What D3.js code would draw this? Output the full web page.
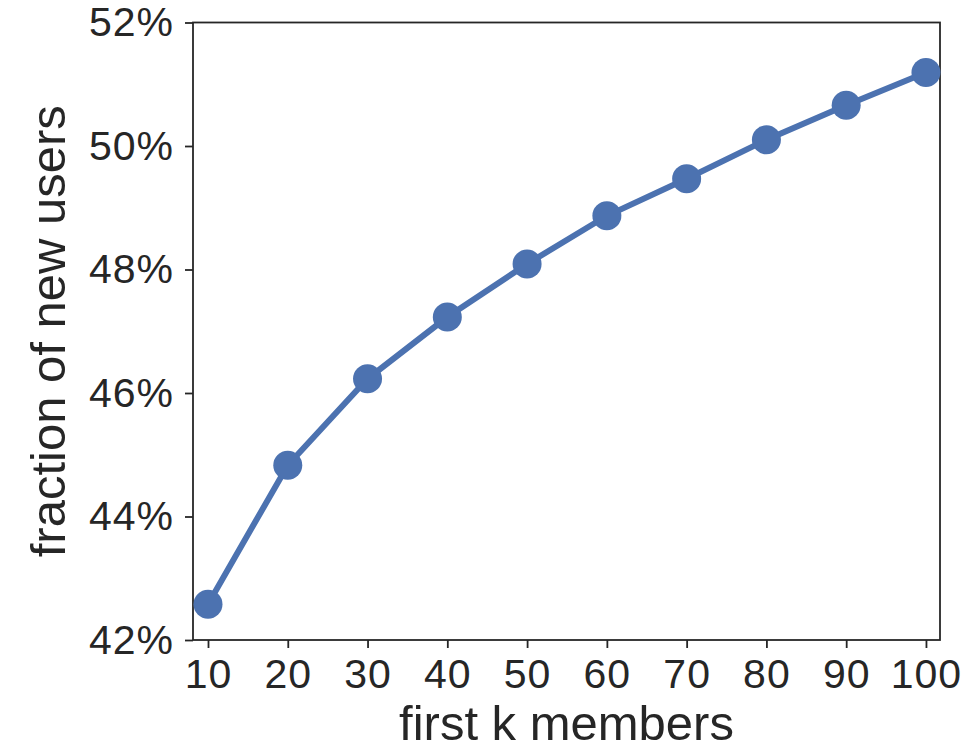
<!DOCTYPE html>
<meta charset="utf-8">
<head>
    <title>first k members</title>
</head>

<style>
body { margin: 0; background: #fff; }

.axis path,
.axis line {
  fill: none;
  stroke: #262626;
  stroke-width: 1.8px;
}

.axis text {
  font: 41px "Liberation Sans", Arial, sans-serif;
  letter-spacing: 1px;
  fill: #262626;
}

.label {
  font: 49px "Liberation Sans", Arial, sans-serif;
  fill: #262626;
}

.line {
  fill: none;
  stroke: #4c72b0;
  stroke-width: 6px;
}

.dot { fill: #4c72b0; }
</style>
<body>
<script src="https://cdn.jsdelivr.net/npm/d3@7/dist/d3.min.js"></script>
<script>

// values
var members = [10, 20, 30, 40, 50, 60, 70, 80, 90, 100];
var fraction = [42.58, 44.83, 46.23, 47.23, 48.09, 48.87, 49.47, 50.10, 50.66, 51.19];
var yTicks = [42, 44, 46, 48, 50, 52];

var margin = {top: 22.5, right: 29, bottom: 114, left: 193},
    width = 969 - margin.left - margin.right,
    height = 754 - margin.top - margin.bottom;

var x = d3.scaleLinear()
    .domain([8.12, 101.76])
    .range([0, width]);

var y = d3.scaleLinear()
    .domain([42, 52])
    .range([height, 0]);

var data = members.map(function(m, i) { return {k: m, v: fraction[i]}; });

var svg = d3.select("body").append("svg")
    .attr("width", 969)
    .attr("height", 754);

var g = svg.append("g")
    .attr("transform", "translate(" + margin.left + "," + margin.top + ")");

// frame
g.append("rect")
    .attr("width", width)
    .attr("height", height)
    .style("fill", "none")
    .style("stroke", "#262626")
    .style("stroke-width", 1.8);

g.append("g")
    .attr("class", "axis axis--x")
    .attr("transform", "translate(0," + height + ")")
    .call(d3.axisBottom(x).tickValues(members).tickSize(8).tickPadding(11).tickSizeOuter(0))
    .call(function(s) { s.select(".domain").remove(); });

g.append("g")
    .attr("class", "axis axis--y")
    .call(d3.axisLeft(y).tickValues(yTicks).tickSize(8).tickPadding(11).tickSizeOuter(0)
      .tickFormat(function(d) { return d + "%"; }))
    .call(function(s) { s.select(".domain").remove(); });

var line = d3.line()
    .x(function(d) { return x(d.k); })
    .y(function(d) { return y(d.v); });

g.append("path")
    .datum(data)
    .attr("class", "line")
    .attr("d", line);

g.selectAll(".dot")
    .data(data)
  .enter().append("circle")
    .attr("class", "dot")
    .attr("cx", function(d) { return x(d.k); })
    .attr("cy", function(d) { return y(d.v); })
    .attr("r", 14.5);

// axis labels
svg.append("text")
    .attr("class", "label")
    .attr("x", margin.left + width / 2)
    .attr("y", 740)
    .style("text-anchor", "middle")
    .text("first k members");

svg.append("text")
    .attr("class", "label")
    .attr("transform", "translate(65," + (margin.top + height / 2) + ") rotate(-90)")
    .style("text-anchor", "middle")
    .text("fraction of new users");

</script>
</body>
